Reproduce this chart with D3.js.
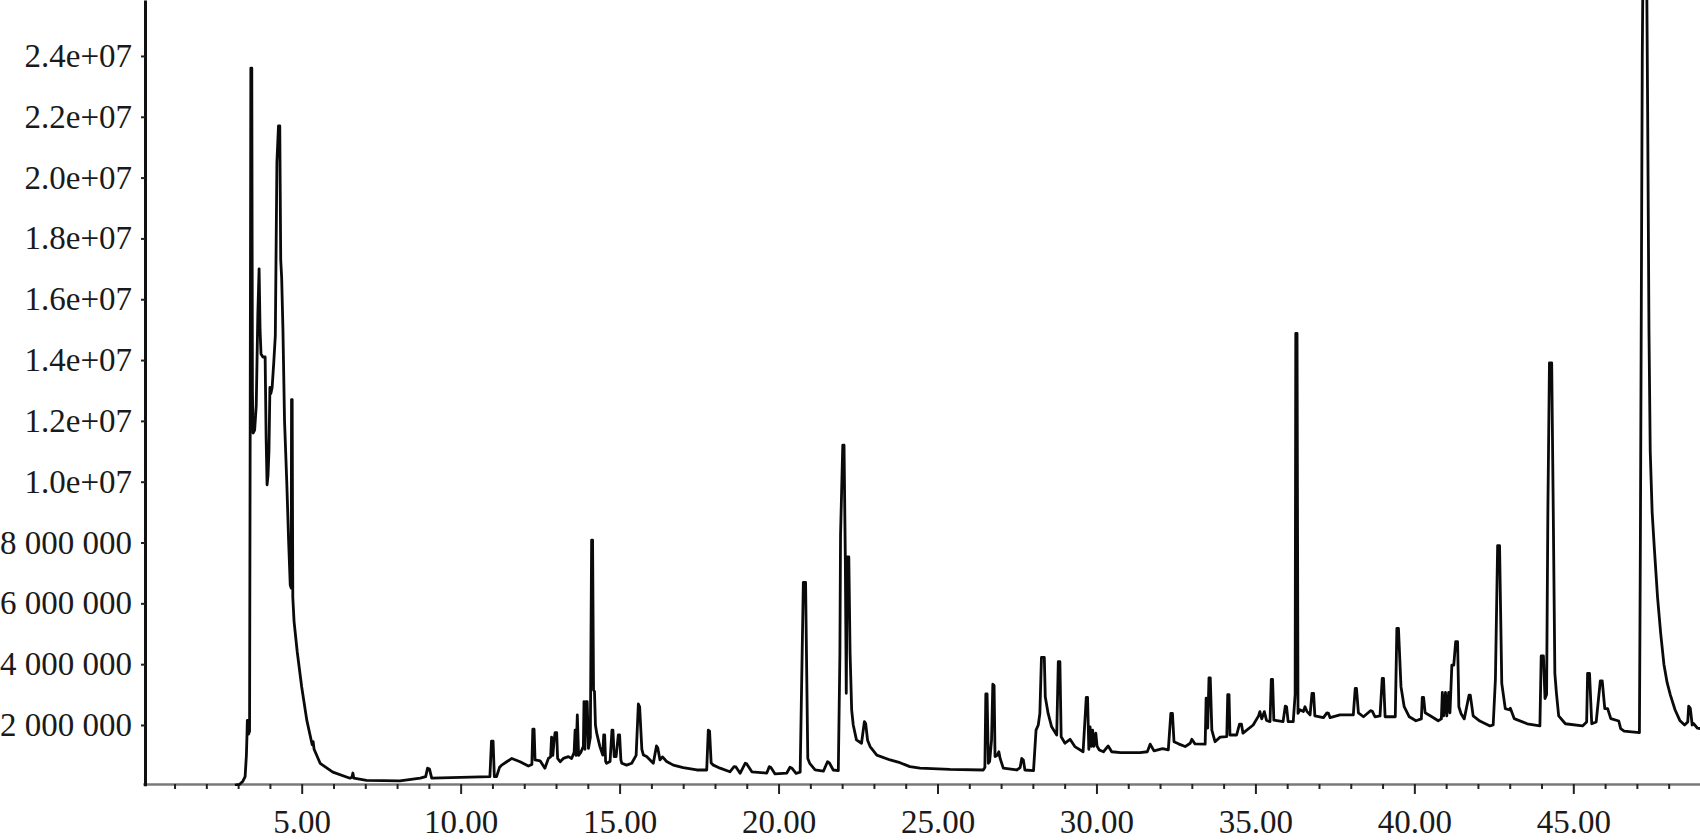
<!DOCTYPE html>
<html><head><meta charset="utf-8">
<script src="https://cdn.jsdelivr.net/npm/d3@7"></script>
<style>
html,body{margin:0;padding:0;background:#fff;}
svg{display:block;}
</style></head>
<body><svg id="chart" width="1700" height="840"></svg>
<script>
// Retention time (min), abundance (millions of counts)
const chromatogram = [
[2.90,0.02],[3.05,0.05],[3.15,0.15],[3.22,0.3],[3.26,1.0],[3.28,1.7],[3.29,2.15],[3.32,2.15],[3.33,1.7],[3.36,1.8],
[3.38,12.0],[3.40,23.6],[3.43,23.6],[3.45,13.0],[3.47,11.6],[3.52,11.7],[3.57,12.5],[3.62,15.5],[3.66,17.0],[3.69,15.0],
[3.72,14.2],[3.78,14.1],[3.85,14.1],[3.88,11.5],[3.91,9.9],[3.94,10.2],[3.97,11.0],[4.00,13.1],[4.03,12.9],[4.07,13.1],
[4.12,13.9],[4.17,14.8],[4.22,20.5],[4.27,21.7],[4.31,21.7],[4.34,17.3],[4.37,16.7],[4.41,15.0],[4.46,12.0],[4.53,10.0],
[4.59,8.0],[4.64,6.6],[4.67,6.5],[4.68,12.7],[4.70,12.7],[4.72,6.2],[4.76,5.4],[4.86,4.4],[5.00,3.25],[5.16,2.16],
[5.33,1.35],[5.36,1.45],[5.39,1.2],[5.58,0.74],[5.98,0.45],[6.52,0.25],[6.58,0.28],[6.61,0.42],[6.64,0.25],[7.04,0.18],
[8.09,0.16],[8.73,0.25],[8.90,0.3],[8.96,0.58],[9.02,0.55],[9.09,0.25],[10.0,0.28],[10.92,0.3],[10.97,1.47],[11.02,1.47],
[11.06,0.3],[11.13,0.3],[11.22,0.6],[11.29,0.68],[11.45,0.79],[11.61,0.9],[11.87,0.79],[12.13,0.65],[12.24,0.7],[12.27,1.86],
[12.31,1.86],[12.34,0.85],[12.5,0.82],[12.65,0.58],[12.76,0.9],[12.83,0.95],[12.86,1.6],[12.90,1.0],[12.94,1.5],[12.97,1.75],
[13.02,1.75],[13.05,0.9],[13.13,0.79],[13.23,0.9],[13.39,0.96],[13.49,0.9],[13.57,1.1],[13.60,1.83],[13.63,1.0],[13.67,2.33],
[13.71,1.0],[13.78,1.1],[13.86,1.3],[13.88,2.77],[13.91,1.2],[13.94,2.77],[13.98,2.77],[14.02,1.23],[14.08,1.6],[14.12,8.08],
[14.15,8.08],[14.18,3.15],[14.21,3.1],[14.24,2.0],[14.28,1.73],[14.38,1.29],[14.47,1.01],[14.50,1.67],[14.53,1.67],[14.56,0.8],
[14.59,0.74],[14.70,0.8],[14.76,1.83],[14.79,1.83],[14.83,0.96],[14.89,0.96],[14.96,1.67],[15.0,1.67],[15.04,0.85],[15.07,0.74],
[15.22,0.68],[15.38,0.74],[15.52,1.0],[15.59,2.69],[15.63,2.6],[15.70,1.2],[15.75,1.01],[15.85,0.96],[16.06,0.74],[16.16,1.31],
[16.20,1.25],[16.27,0.85],[16.35,0.95],[16.48,0.8],[16.69,0.68],[17.0,0.6],[17.43,0.52],[17.74,0.52],[17.79,1.83],[17.83,1.8],
[17.88,0.75],[17.95,0.68],[18.16,0.58],[18.47,0.46],[18.6,0.63],[18.66,0.62],[18.79,0.41],[18.95,0.74],[19.0,0.72],[19.16,0.46],
[19.63,0.42],[19.71,0.63],[19.76,0.6],[19.89,0.39],[20.26,0.42],[20.36,0.61],[20.42,0.58],[20.55,0.41],[20.68,0.45],[20.78,6.69],
[20.85,6.69],[20.92,0.9],[20.98,0.74],[21.15,0.52],[21.41,0.48],[21.54,0.79],[21.6,0.75],[21.72,0.52],[21.88,0.5],[21.93,4.36],
[21.95,8.25],[22.02,11.2],[22.06,11.2],[22.1,7.5],[22.13,3.04],[22.16,7.53],[22.21,7.53],[22.25,4.36],[22.3,2.5],[22.35,2.0],
[22.45,1.51],[22.61,1.4],[22.70,2.11],[22.74,2.05],[22.8,1.5],[22.88,1.29],[23.09,1.01],[23.51,0.85],[23.82,0.76],[24.13,0.63],
[24.45,0.58],[25.39,0.54],[26.44,0.52],[26.49,0.6],[26.52,3.02],[26.56,3.02],[26.6,0.74],[26.64,0.8],[26.7,1.5],[26.74,3.34],
[26.78,3.3],[26.81,0.96],[26.88,1.0],[26.93,1.12],[26.97,0.9],[27.07,0.58],[27.49,0.52],[27.6,0.6],[27.65,0.9],[27.7,0.85],
[27.75,0.52],[28.02,0.5],[28.1,1.83],[28.17,2.0],[28.22,2.38],[28.27,4.22],[28.36,4.22],[28.39,2.93],[28.48,2.38],[28.59,1.94],
[28.75,1.67],[28.8,4.08],[28.85,4.08],[28.89,1.61],[29.01,1.4],[29.17,1.53],[29.32,1.29],[29.58,1.12],[29.68,2.91],[29.72,2.91],
[29.76,1.2],[29.8,1.94],[29.84,1.3],[29.88,1.83],[29.92,1.3],[29.98,1.73],[30.02,1.3],[30.09,1.18],[30.22,1.12],[30.37,1.31],
[30.48,1.12],[30.76,1.09],[31.37,1.09],[31.6,1.12],[31.69,1.37],[31.81,1.15],[32.08,1.22],[32.26,1.18],[32.34,2.38],[32.39,2.38],
[32.44,1.45],[32.58,1.38],[32.79,1.29],[32.95,1.4],[33.0,1.53],[33.1,1.38],[33.42,1.37],[33.45,2.88],[33.5,1.9],[33.54,3.55],
[33.58,3.55],[33.63,1.83],[33.73,1.45],[33.89,1.6],[34.1,1.62],[34.13,3.0],[34.17,3.0],[34.2,1.67],[34.41,1.67],[34.5,2.03],
[34.56,2.03],[34.61,1.73],[34.93,2.0],[35.1,2.3],[35.14,2.44],[35.2,2.2],[35.28,2.44],[35.35,2.15],[35.46,2.11],[35.5,3.5],
[35.54,3.5],[35.58,2.16],[35.87,2.11],[35.94,2.62],[35.98,2.6],[36.03,2.11],[36.19,2.11],[36.25,3.0],[36.27,14.88],[36.31,14.88],
[36.34,2.38],[36.4,2.5],[36.51,2.44],[36.56,2.6],[36.62,2.45],[36.72,2.33],[36.78,3.04],[36.83,3.04],[36.87,2.3],[37.14,2.24],
[37.25,2.4],[37.3,2.38],[37.35,2.24],[37.66,2.33],[38.08,2.33],[38.14,3.2],[38.18,3.2],[38.24,2.4],[38.4,2.27],[38.62,2.47],
[38.68,2.45],[38.76,2.27],[38.92,2.3],[38.99,3.53],[39.03,3.53],[39.08,2.27],[39.4,2.27],[39.45,5.18],[39.5,5.18],[39.58,3.26],
[39.68,2.6],[39.84,2.27],[40.05,2.14],[40.22,2.2],[40.25,2.91],[40.29,2.91],[40.34,2.4],[40.55,2.27],[40.75,2.14],[40.85,2.2],
[40.88,3.07],[40.92,2.3],[40.98,3.07],[41.02,2.3],[41.08,3.07],[41.12,2.4],[41.18,3.97],[41.24,3.97],[41.3,4.74],[41.36,4.74],
[41.4,2.6],[41.47,2.37],[41.57,2.2],[41.72,2.98],[41.76,2.98],[41.85,2.3],[42.06,2.13],[42.38,1.97],[42.48,2.0],[42.55,3.5],
[42.62,7.9],[42.68,7.9],[42.75,3.37],[42.86,2.54],[42.98,2.5],[43.02,2.55],[43.14,2.21],[43.55,2.04],[43.95,1.97],[43.99,4.27],
[44.06,4.27],[44.11,2.87],[44.16,3.0],[44.2,9.0],[44.25,13.91],[44.32,13.91],[44.37,9.0],[44.42,3.7],[44.47,3.04],[44.54,2.3],
[44.75,2.04],[45.29,1.97],[45.42,2.1],[45.45,3.7],[45.51,3.7],[45.58,2.04],[45.72,2.1],[45.85,3.45],[45.91,3.45],[45.99,2.54],
[46.08,2.54],[46.18,2.21],[46.43,2.13],[46.49,1.88],[46.6,1.8],[47.08,1.75],[47.11,8.0],[47.14,16.0],[47.17,24.0],[47.2,28.0],
[47.3,28.0],[47.34,22.0],[47.38,15.0],[47.42,11.0],[47.48,9.0],[47.55,7.8],[47.65,6.2],[47.75,5.0],[47.85,4.0],[47.95,3.4],
[48.05,3.0],[48.2,2.5],[48.35,2.15],[48.5,2.0],[48.6,2.1],[48.63,2.62],[48.68,2.55],[48.74,2.0],[48.78,2.05],[48.9,1.9],[49.0,1.88]
];
const yTickValues = [2, 4, 6, 8, 10, 12, 14, 16, 18, 20, 22, 24];   // millions
const xMajorTicks = [5, 10, 15, 20, 25, 30, 35, 40, 45];
const xMinorTicks = [1,2,3,4,6,7,8,9,11,12,13,14,16,17,18,19,21,22,23,24,26,27,28,29,31,32,33,34,36,37,38,39,41,42,43,44,46,47,48];

const width = 1700, height = 840;
const plotLeft = 145, plotBottom = 784;
const fontFamily = "'Liberation Serif', 'Times New Roman', serif";
const svg = d3.select("#chart");

const x = d3.scaleLinear().domain([0, 49]).range([142.75, 142.75 + 31.79 * 49]);
const y = d3.scaleLinear().domain([0, 25.84]).range([785.8, 0]);

const fmtY = v => {
  const c = v * 1e6;
  if (c >= 1e7) return (c / 1e7).toFixed(1) + "e+07";
  return d3.format(",")(c).replace(/,/g, " ");
};

svg.append("defs").append("clipPath").attr("id", "clip")
  .append("rect").attr("x", plotLeft).attr("y", 0)
  .attr("width", width - plotLeft).attr("height", plotBottom + 2);

// x axis: minor ticks
const gxMinor = svg.append("g").attr("transform", `translate(0,${plotBottom})`)
  .call(d3.axisBottom(x).tickValues(xMinorTicks).tickSize(5).tickSizeOuter(0).tickFormat(""));
gxMinor.select(".domain").attr("stroke", "#7a7a7a").attr("stroke-width", 2.5);
gxMinor.selectAll(".tick line").attr("stroke", "#222").attr("stroke-width", 2);

// x axis: major ticks with labels
const gxMajor = svg.append("g").attr("transform", `translate(0,${plotBottom})`)
  .call(d3.axisBottom(x).tickValues(xMajorTicks).tickSize(10).tickSizeOuter(0).tickFormat(d3.format(".2f")));
gxMajor.select(".domain").remove();
gxMajor.selectAll(".tick line").attr("stroke", "#222").attr("stroke-width", 2);
gxMajor.selectAll(".tick text")
  .attr("y", 26).attr("dy", "0.71em")
  .attr("fill", "#1a1a1a")
  .style("font-family", fontFamily)
  .style("font-size", "33px");

// y axis
const gy = svg.append("g").attr("transform", `translate(${plotLeft},0)`)
  .call(d3.axisLeft(y).tickValues(yTickValues).tickSize(4).tickSizeOuter(0).tickPadding(9).tickFormat(fmtY));
gy.select(".domain").attr("stroke", "#111").attr("stroke-width", 3);
gy.selectAll(".tick line").attr("stroke", "#222").attr("stroke-width", 2);
gy.selectAll(".tick text")
  .attr("fill", "#1a1a1a")
  .style("font-family", fontFamily)
  .style("font-size", "33px");

// chromatogram trace
const line = d3.line().x(d => x(d[0])).y(d => y(d[1]));
svg.append("path")
  .datum(chromatogram)
  .attr("clip-path", "url(#clip)")
  .attr("fill", "none")
  .attr("stroke", "#0a0a0a")
  .attr("stroke-width", 2.8)
  .attr("stroke-linejoin", "round")
  .attr("d", line);
</script>
</body></html>
